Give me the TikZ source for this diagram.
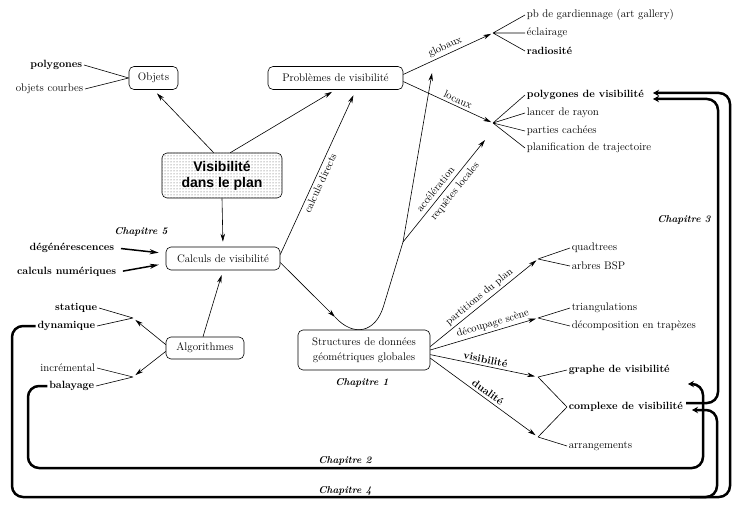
\documentclass[tikz,border=0pt]{standalone}
\usepackage{fontspec}
\newfontfamily\visfont{Liberation Sans}
\usetikzlibrary{arrows.meta, patterns}

\begin{document}
\begin{tikzpicture}[
	x=1pt, y=-1pt, line width=0.6pt,
	>={Stealth[length=8pt, width=4.5pt]},
	box/.style={draw, rounded corners=5pt, minimum height=23pt, inner sep=2pt,
		font=\fontsize{11}{15}\selectfont},
	leaf/.style={inner sep=1.5pt, font=\fontsize{11}{13}\selectfont},
	bold leaf/.style={inner sep=1.5pt, font=\fontsize{10.5}{12}\selectfont\bfseries},
	edge label/.style={sloped, inner sep=2.5pt, font=\fontsize{10.5}{12}\selectfont},
	bold label/.style={edge label, font=\fontsize{10.5}{12}\selectfont\bfseries},
	chapter/.style={font=\fontsize{10}{12}\selectfont\bfseries\itshape},
	heavy/.style={line width=1.5pt, -{Stealth[length=9pt, width=5pt]}},
	chapline/.style={line width=2.5pt, rounded corners=11pt, -{Stealth[length=6pt, width=6.5pt]}}
]
	\useasboundingbox (0, 0) rectangle (747, 513);

	% boxes
	\node[box, minimum width=49pt] (objets) at (153.5, 78) {Objets};
	\node[box, minimum width=135pt] (pbvis) at (335.5, 78) {Problèmes de visibilité};
	\node[box, minimum width=120pt, minimum height=45pt, pattern=dots, pattern color=black!70,
		align=center, font=\visfont\bfseries\fontsize{14}{16}\selectfont]
		(vis) at (222, 175.5) {Visibilité\\dans le plan};
	\node[box, minimum width=114pt] (calc) at (223, 258.5) {Calculs de visibilité};
	\node[box, minimum width=78pt, minimum height=22pt] (algo) at (205, 348) {Algorithmes};
	\node[box, minimum width=132pt, minimum height=40pt, align=center]
		(struct) at (364, 350) {Structures de données\\géométriques globales};

	% left leaves
	\node[bold leaf, anchor=east] (poly) at (84, 65) {polygones};
	\node[leaf, anchor=east] (courbes) at (85, 89) {objets courbes};
	\node[bold leaf, anchor=east] (degen) at (116, 248) {dégénérescences};
	\node[bold leaf, anchor=east] (numer) at (118, 272) {calculs numériques};
	\node[bold leaf, anchor=east] (stat) at (99, 308) {statique};
	\node[bold leaf, anchor=east] (dyn) at (97, 326) {dynamique};
	\node[leaf, anchor=east] (incr) at (97, 368) {incrémental};
	\node[bold leaf, anchor=east] (bal) at (96, 386) {balayage};

	% right leaves
	\node[leaf, anchor=west] (gard) at (525, 15) {pb de gardiennage (art gallery)};
	\node[leaf, anchor=west] (eclair) at (525, 33) {éclairage};
	\node[bold leaf, anchor=west] (radio) at (525, 51) {radiosité};
	\node[bold leaf, anchor=west] (polvis) at (525, 95) {polygones de visibilité};
	\node[leaf, anchor=west] (lancer) at (525, 113) {lancer de rayon};
	\node[leaf, anchor=west] (cachees) at (525, 131) {parties cachées};
	\node[leaf, anchor=west] (planif) at (525, 148) {planification de trajectoire};
	\node[leaf, anchor=west] (quad) at (570, 248) {quadtrees};
	\node[leaf, anchor=west] (bsp) at (570, 266) {arbres BSP};
	\node[leaf, anchor=west] (triang) at (570, 308) {triangulations};
	\node[leaf, anchor=west] (trap) at (570, 326) {décomposition en trapèzes};
	\node[bold leaf, anchor=west] (graphe) at (567, 370) {graphe de visibilité};
	\node[bold leaf, anchor=west] (complexe) at (567, 407) {complexe de visibilité};
	\node[leaf, anchor=west] (arrang) at (567, 446) {arrangements};

	% chapters
	\node[chapter] (ch5) at (141, 232) {Chapitre 5};
	\node[chapter] (ch1) at (362, 383) {Chapitre 1};
	\node[chapter] (ch3) at (684, 220) {Chapitre 3};
	\node[chapter] (ch2) at (345, 461) {Chapitre 2};
	\node[chapter] (ch4) at (345, 491) {Chapitre 4};

	% branching points
	\coordinate (jsd) at (133, 318);
	\coordinate (jib) at (133, 377);
	\coordinate (jglob) at (493, 33);
	\coordinate (jloc) at (493, 123);
	\coordinate (jpart) at (538, 259);
	\coordinate (jdec) at (538, 318);
	\coordinate (jgra) at (538, 377);
	\coordinate (jarr) at (538, 437);
	\coordinate (dtip) at (335, 317);
	\coordinate (dbend) at (369, 354);
	\coordinate (jacc) at (403, 242);
	\coordinate (gtip) at (432, 73);
	\coordinate (ltip) at (485, 140);

	\draw (poly.east) -- (objets.west) (courbes.east) -- (objets.west);
	\draw (stat.east) -- (jsd) (dyn.east) -- (jsd);
	\draw (incr.east) -- (jib) (bal.east) -- (jib);
	\draw (jglob) -- (gard.west) (jglob) -- (eclair.west) (jglob) -- (radio.west);
	\draw (jloc) -- (polvis.west) (jloc) -- (lancer.west)
		(jloc) -- (cachees.west) (jloc) -- (planif.west);
	\draw (jpart) -- (quad.west) (jpart) -- (bsp.west);
	\draw (jdec) -- (triang.west) (jdec) -- (trap.west);
	\draw (jgra) -- (graphe.west) (jgra) -- (complexe.west);
	\draw (jarr) -- (arrang.west) (jarr) -- (complexe.west);

	\draw[->, shorten >=5pt] (vis.110) -- (objets.south);
	\draw[->, shorten >=4pt] (vis.70) -- (pbvis.south);
	\draw[->, shorten >=5pt] (vis.south) -- (calc.north);
	\draw[->, shorten >=5pt] (algo.100) -- (calc.south);
	\draw[->, shorten >=3pt] (algo.175) -- (jsd);
	\draw[->, shorten >=3pt] (algo.-175) -- (jib);
	\draw[heavy, shorten <=5pt, shorten >=7pt] (degen.east) -- (calc.175);
	\draw[heavy, shorten <=5pt, shorten >=7pt] (numer.east) -- (calc.-175);

	\draw[->, shorten >=2pt] (pbvis.3) -- node[edge label, above] {globaux} (jglob);
	\draw[->, shorten >=2pt] (pbvis.-3) -- node[edge label, above, pos=0.58] {locaux} (jloc);
	\draw[->, shorten >=6pt] (calc.4) -- node[edge label, below, pos=0.45] {calculs directs} (pbvis.-30);

	% from the calculations down to the structures and back up
	\draw[->] (calc.-4) -- (dtip);
	\draw[rounded corners=50pt] (dtip) -- (dbend) -- (jacc);
	\draw[->] (jacc) -- (gtip);
	\draw[->] (jacc) -- node[edge label, above=1.5pt, pos=0.47] {accélération}
		node[edge label, below=1.5pt, pos=0.55] {requêtes locales} (ltip);

	\draw[->, shorten >=2pt] (struct.3) -- node[edge label, above] {partitions du plan} (jpart);
	\draw[->, shorten >=2pt] (struct.east) -- node[edge label, above, pos=0.6] {découpage scène} (jdec);
	\draw[->, shorten >=3pt] (struct.-4) -- node[bold label, above] {visibilité} (jgra);
	\draw[->, shorten >=3pt] (struct.-7) -- node[bold label, above] {dualité} (jarr);

	% chapter links
	\coordinate (c2tip) at (688, 384);
	\coordinate (c3start) at (686, 403);
	\coordinate (c3tip) at (653, 99);
	\coordinate (c4tip) at (692, 410);
	\coordinate (c4fork) at (690, 497);
	\coordinate (p4tip) at (653, 93);

	\draw[chapline] (bal.west) -| (28, 468) -| (703, 384) -- (c2tip);
	\draw[chapline] (c3start) -| (718, 99) -- (c3tip);
	\draw[chapline] (dyn.west) -| (12, 497) -| (730, 93) -- (p4tip);
	\draw[chapline] (c4fork) -| (717, 410) -- (c4tip);
\end{tikzpicture}
\end{document}
